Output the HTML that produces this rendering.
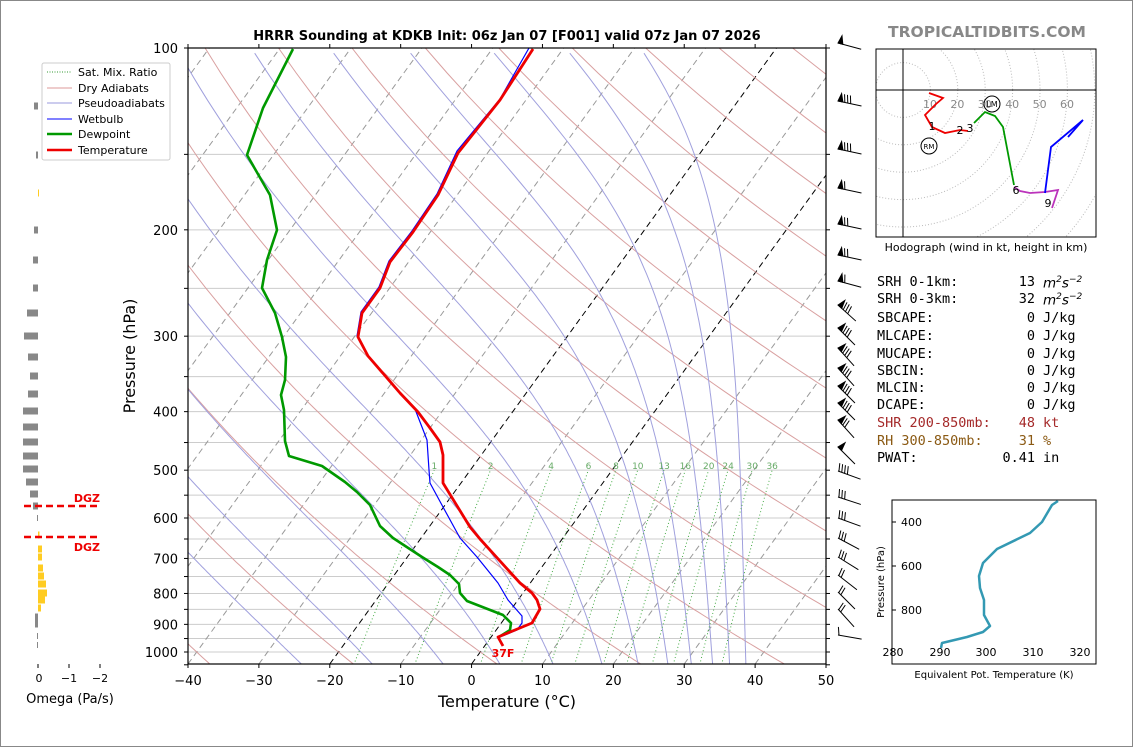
<!DOCTYPE html>
<html><head><meta charset="utf-8"><style>
body{margin:0;background:#fff;}
#w{position:relative;width:1134px;height:748px;overflow:hidden;font-family:"DejaVu Sans","Liberation Sans",sans-serif;}
.t{position:absolute;font-family:"DejaVu Sans Mono","Liberation Mono",monospace;font-size:13.5px;line-height:16px;white-space:pre;}
.v{position:absolute;font-family:"DejaVu Sans Mono","Liberation Mono",monospace;font-size:13.5px;line-height:16px;text-align:right;width:100px;left:935px;white-space:pre;}
.u{position:absolute;font-family:"DejaVu Sans Mono","Liberation Mono",monospace;font-size:13.5px;line-height:16px;left:1043px;white-space:pre;}
</style></head><body><div id="w">
<svg id="s" width="1134" height="748" xmlns="http://www.w3.org/2000/svg" style="position:absolute;left:0;top:0" font-family="DejaVu Sans, Liberation Sans, sans-serif">
<defs>
<clipPath id="cp"><rect x="188" y="48" width="638" height="616"/></clipPath>
<clipPath id="hc"><rect x="876" y="49" width="220" height="188"/></clipPath>
</defs>
<rect x="0.5" y="0.5" width="1132" height="746" fill="#fff" stroke="#888"/>
<g id="bg" clip-path="url(#cp)"></g>
<g id="prof" clip-path="url(#cp)" fill="none" stroke-linejoin="round"></g>
<rect x="188" y="48" width="638" height="616" fill="none" stroke="#000" stroke-width="1.2"/>
<g id="ax"></g>
<g id="barbs" stroke="#000" stroke-width="1" fill="none"></g>
<text x="507" y="40" text-anchor="middle" font-size="13" font-weight="bold">HRRR Sounding at KDKB Init: 06z Jan 07 [F001] valid 07z Jan 07 2026</text>
<text x="987" y="37" text-anchor="middle" font-size="15.5" font-weight="bold" fill="#888">TROPICALTIDBITS.COM</text>
<text x="507" y="707" text-anchor="middle" font-size="16">Temperature (°C)</text>
<text transform="translate(135,356) rotate(-90)" text-anchor="middle" font-size="16">Pressure (hPa)</text>
<text x="503" y="657" font-size="11" font-weight="bold" fill="#e00" text-anchor="middle">37F</text>
<g font-size="11">
<rect x="42" y="63" width="128" height="97" fill="#fff" stroke="#ccc" rx="2"/>
<line x1="47" y1="72" x2="72" y2="72" stroke="#393" stroke-dasharray="1,1.5"/><text x="78" y="76">Sat. Mix. Ratio</text>
<line x1="47" y1="88" x2="72" y2="88" stroke="#d99"/><text x="78" y="92">Dry Adiabats</text>
<line x1="47" y1="103" x2="72" y2="103" stroke="#99d"/><text x="78" y="107">Pseudoadiabats</text>
<line x1="47" y1="119" x2="72" y2="119" stroke="#00f"/><text x="78" y="123">Wetbulb</text>
<line x1="47" y1="134" x2="72" y2="134" stroke="#090" stroke-width="2.5"/><text x="78" y="138">Dewpoint</text>
<line x1="47" y1="150" x2="72" y2="150" stroke="#e00" stroke-width="2.5"/><text x="78" y="154">Temperature</text>
</g>
<g id="om"></g>
<line x1="24" y1="506" x2="98" y2="506" stroke="#e00" stroke-width="2.5" stroke-dasharray="7,4"/>
<line x1="24" y1="537" x2="98" y2="537" stroke="#e00" stroke-width="2.5" stroke-dasharray="7,4"/>
<text x="100" y="502" text-anchor="end" font-size="11" font-weight="bold" fill="#e00">DGZ</text>
<text x="100" y="551" text-anchor="end" font-size="11" font-weight="bold" fill="#e00">DGZ</text>
<g font-size="11" text-anchor="middle"><text x="39" y="682">0</text><text x="69" y="682">−1</text><text x="100" y="682">−2</text></g>
<line x1="38" y1="664" x2="38" y2="668" stroke="#000"/><line x1="69" y1="664" x2="69" y2="668" stroke="#000"/><line x1="100" y1="664" x2="100" y2="668" stroke="#000"/>
<text x="70" y="703" text-anchor="middle" font-size="13">Omega (Pa/s)</text>
<g id="hodo"></g>
<rect x="876" y="49" width="220" height="188" fill="none" stroke="#000"/>
<text x="986" y="251" text-anchor="middle" font-size="11">Hodograph (wind in kt, height in km)</text>
<rect x="892" y="500" width="204" height="164" fill="none" stroke="#000"/>
<polyline fill="none" stroke="#3399b3" stroke-width="2.5" stroke-linejoin="round" points="1058,501 1052,505 1042,522 1030,533 997,549 983,563 979,576 980,588 984,600 984,615 990,626 983,632 967,637 942,643 941,648"/>
<g font-size="11" text-anchor="end"><text x="922" y="526">400</text><text x="922" y="570">600</text><text x="922" y="614">800</text></g>
<line x1="892" y1="522" x2="896" y2="522" stroke="#000"/><line x1="892" y1="566" x2="896" y2="566" stroke="#000"/><line x1="892" y1="610" x2="896" y2="610" stroke="#000"/>
<g font-size="11" text-anchor="middle"><text x="893" y="656">280</text><text x="940" y="656">290</text><text x="986" y="656">300</text><text x="1033" y="656">310</text><text x="1080" y="656">320</text></g>
<text transform="translate(884,582) rotate(-90)" text-anchor="middle" font-size="10">Pressure (hPa)</text>
<text x="994" y="678" text-anchor="middle" font-size="10">Equivalent Pot. Temperature (K)</text>
</svg>
<div class="t" style="left:877px;top:274px">SRH 0-1km:</div><div class="v" style="top:274px">13</div><div class="u" style="top:272px;font-family:'DejaVu Sans';font-style:italic">m<sup style="font-size:9px">2</sup>s<sup style="font-size:9px">−2</sup></div>
<div class="t" style="left:877px;top:291px">SRH 0-3km:</div><div class="v" style="top:291px">32</div><div class="u" style="top:289px;font-family:'DejaVu Sans';font-style:italic">m<sup style="font-size:9px">2</sup>s<sup style="font-size:9px">−2</sup></div>
<div class="t" style="left:877px;top:310px">SBCAPE:</div><div class="v" style="top:310px">0</div><div class="u" style="top:310px">J/kg</div>
<div class="t" style="left:877px;top:328px">MLCAPE:</div><div class="v" style="top:328px">0</div><div class="u" style="top:328px">J/kg</div>
<div class="t" style="left:877px;top:346px">MUCAPE:</div><div class="v" style="top:346px">0</div><div class="u" style="top:346px">J/kg</div>
<div class="t" style="left:877px;top:363px">SBCIN:</div><div class="v" style="top:363px">0</div><div class="u" style="top:363px">J/kg</div>
<div class="t" style="left:877px;top:380px">MLCIN:</div><div class="v" style="top:380px">0</div><div class="u" style="top:380px">J/kg</div>
<div class="t" style="left:877px;top:397px">DCAPE:</div><div class="v" style="top:397px">0</div><div class="u" style="top:397px">J/kg</div>
<div class="t" style="left:877px;top:415px;color:#a52a2a">SHR 200-850mb:</div><div class="v" style="top:415px;color:#a52a2a">48</div><div class="u" style="top:415px;color:#a52a2a">kt</div>
<div class="t" style="left:877px;top:433px;color:#8b5a14">RH 300-850mb:</div><div class="v" style="top:433px;color:#8b5a14">31</div><div class="u" style="top:433px;color:#8b5a14">%</div>
<div class="t" style="left:877px;top:450px">PWAT:</div><div class="v" style="top:450px">0.41</div><div class="u" style="top:450px">in</div>
</div>
<script>
var NS="http://www.w3.org/2000/svg";
function el(p,n,a){var e=document.createElementNS(NS,n);for(var k in a)e.setAttribute(k,a[k]);p.appendChild(e);return e;}
function yP(p){return 48+Math.log10(p/100)*604;}
function xT(T,y){return 188+(T+40)*7.089+0.725*(664-y);}
var bg=document.getElementById('bg'),ax=document.getElementById('ax');
for(var p=100;p<=1050;p+=50){var y=yP(p);el(bg,'line',{x1:188,x2:826,y1:y,y2:y,stroke:'#ccc','stroke-width':1});}
for(var T=-130;T<=50;T+=10){var y1=664,y2=48;el(bg,'line',{x1:xT(T,y1),y1:y1,x2:xT(T,y2),y2:y2,stroke:(T==0||T==-20)?'#000':'#999','stroke-width':1,'stroke-dasharray':'6,4'});}
for(var th=-40;th<=220;th+=20){var pts=[];for(var p=1050;p>=100;p-=10){var T=(th+273.15)*Math.pow(p/1000,0.2857)-273.15;var y=yP(p);pts.push(xT(T,y).toFixed(1)+','+y.toFixed(1));}el(bg,'polyline',{points:pts.join(' '),fill:'none',stroke:'#d9a0a0','stroke-width':1});}
function es(Tc){return 6.112*Math.exp(17.67*Tc/(Tc+243.5));}
var starts=[-24,-14,-4,4,11.5,18.4,23.5,27.7,31,34,36.4,38.7];
starts.forEach(function(T0){var T=T0+273.15,p=1047,pts=[];while(p>=100){var y=yP(p);pts.push(xT(T-273.15,y).toFixed(1)+','+y.toFixed(1));var e=es(T-273.15),rs=0.622*e/(p-e);var dTdp=(287*T+2.5e6*rs)/(1005+2.5e6*2.5e6*rs*0.622/(287*T*T))/p;T-=dTdp*5;p-=5;}el(bg,'polyline',{points:pts.join(' '),fill:'none',stroke:'#a0a0dd','stroke-width':1});});
[1,2,4,6,8,10,13,16,20,24,30,36].forEach(function(w){var pts=[];for(var p=1050;p>=500;p-=10){var e=p*w/(622+w),l=Math.log(e/6.112),Td=243.5*l/(17.67-l),y=yP(p);pts.push(xT(Td,y).toFixed(1)+','+y.toFixed(1));}el(bg,'polyline',{points:pts.join(' '),fill:'none',stroke:'#4a4','stroke-width':1,'stroke-dasharray':'1,2.5'});var e=500*w/(622+w),l=Math.log(e/6.112),Td=243.5*l/(17.67-l);var t=el(bg,'text',{x:xT(Td,470),y:469,'font-size':9,fill:'#6a6','text-anchor':'middle'});t.textContent=w;});
var pr=document.getElementById('prof');
el(pr,'polyline',{stroke:'#00f','stroke-width':1.2,points:"529,48 500,99 457,151 437,194 412,231 389,261 379,287 361,312 357,336 367,355 397,389 415,409 427,440 429,470 430,483 443,507 460,538 477,557 498,583 508,600 522,616 522,623 517,630 500,637"});
el(pr,'polyline',{stroke:'#090','stroke-width':2.6,points:"293,49 263,108 247,155 270,195 277,230 267,260 262,288 275,313 282,337 286,357 285,380 281,395 284,410 285,441 289,456 322,466 345,482 357,492 370,505 380,526 393,538 422,557 438,567 450,575 459,584 460,593 467,601 503,615 511,623 510,630 499,637"});
el(pr,'polyline',{stroke:'#e00','stroke-width':2.8,points:"533,49 500,100 458,153 438,195 413,232 390,262 380,288 362,313 358,337 368,356 400,393 418,412 430,428 440,442 443,455 443,483 470,527 480,539 520,583 532,593 537,600 540,609 532,623 498,637 503,646"});
var lab=[100,200,300,400,500,600,700,800,900,1000];
for(var p=100;p<=1050;p+=50){var y=yP(p);el(ax,'line',{x1:184,x2:188,y1:y,y2:y,stroke:'#000'});el(ax,'line',{x1:826,x2:830,y1:y,y2:y,stroke:'#000'});if(lab.indexOf(p)>=0){var t=el(ax,'text',{x:178,y:y+5,'font-size':13,'text-anchor':'end'});t.textContent=p;}}
for(var T=-40;T<=50;T+=10){var x=188+(T+40)*7.089;el(ax,'line',{x1:x,x2:x,y1:664,y2:668,stroke:'#000'});el(ax,'line',{x1:x,x2:x,y1:44,y2:48,stroke:'#000'});var t=el(ax,'text',{x:x,y:685,'font-size':13,'text-anchor':'middle'});t.textContent=(T<0?'−':'')+Math.abs(T);}
var om=document.getElementById('om');
[[106,34],[155,36],[230,34],[260,33],[288,33],[313,27],[336,24],[357,28],[376,30],[394,28],[411,23],[427,23],[442,23],[456,23],[469,23],[482,26],[494,30],[506,33],[617,35],[624,35]].forEach(function(b){el(om,'rect',{x:b[1],y:b[0]-3.5,width:38-b[1],height:7,fill:'#888'});});
[[518,37],[636,37],[645,37]].forEach(function(b){el(om,'rect',{x:b[1],y:b[0]-3,width:1,height:6,fill:'#888'});});
[[193,39],[535,39.5],[549,42],[557,42],[568,43],[576,44],[584,46],[593,47],[600,45],[608,41]].forEach(function(b){el(om,'rect',{x:38,y:b[0]-3.5,width:b[1]-38,height:7,fill:'#fc2'});});
var bb=document.getElementById('barbs');
function barb(y,ang,flag,n){var r=ang*Math.PI/180,c=Math.cos(r),s=Math.sin(r);var x0=838,y0=y;var x1=x0+24*c,y1=y0+24*s;el(bb,'line',{x1:x0,y1:y0,x2:x1,y2:y1});var px=s,py=-c;
 if(flag){el(bb,'polygon',{points:x0+','+y0+' '+(x0+5*c)+','+(y0+5*s)+' '+(x0+2*c+8*px)+','+(y0+2*s+8*py),fill:'#000'});}
 for(var i=0;i<n;i++){var d=(flag?6:0)+i*3+1;var bx=x0+d*c,by=y0+d*s;el(bb,'line',{x1:bx,y1:by,x2:bx+px*8-c*2,y2:by+py*8-s*2});}}
[[43,15,1,0],[101,12,1,3],[149,12,1,3],[188,12,1,1],[224,12,1,2],[255,12,1,2],[281,15,1,1],[305,42,1,3],[328,45,1,3],[348,48,1,3],[368,48,1,3],[386,45,1,3],[403,45,1,3],[420,48,1,2],[447,45,1,0],[471,20,0,4],[497,18,0,3],[518,20,0,3],[538,28,0,3],[557,32,0,3],[575,38,0,2],[592,45,0,2],[609,48,0,2],[635,10,0,1]].forEach(function(a){barb(a[0],a[1],a[2],a[3]);});
var h=document.getElementById('hodo');var hg=el(h,'g',{'clip-path':'url(#hc)'});
for(var k=1;k<=9;k++)el(hg,'circle',{cx:903,cy:90,r:27.4*k,fill:'none',stroke:'#bbb','stroke-dasharray':'1,2'});
el(hg,'line',{x1:876,x2:1096,y1:90,y2:90,stroke:'#000'});el(hg,'line',{x1:903,x2:903,y1:49,y2:237,stroke:'#000'});
[10,20,30,40,50,60].forEach(function(v,i){var t=el(hg,'text',{x:930+i*27.4,y:108,'font-size':11,fill:'#888','text-anchor':'middle'});t.textContent=v;});
function pl(pts,c){el(hg,'polyline',{points:pts,fill:'none',stroke:c,'stroke-width':1.8});}
pl("929,93 943,98 936,104 925,115 932,127 945,133 960,130 968,131","#e00");
pl("974,123 985,112 995,116 1003,127 1014,185","#090");
pl("1014,187 1020,191 1030,193 1045,192 1058,190 1052,208","#b3b");
pl("1045,193 1051,147 1083,120 1068,137","#00f");
[['1',932,130],['2',960,134],['3',970,132],['6',1016,194],['9',1048,207]].forEach(function(a){var t=el(hg,'text',{x:a[1],y:a[2],'font-size':11,'text-anchor':'middle'});t.textContent=a[0];});
el(hg,'circle',{cx:929,cy:146,r:8,fill:'#fff',stroke:'#000'});el(hg,'circle',{cx:992,cy:104,r:8,fill:'none',stroke:'#000'});
var t=el(hg,'text',{x:929,y:149,'font-size':7,'text-anchor':'middle'});t.textContent='RM';
t=el(hg,'text',{x:992,y:107,'font-size':8,'text-anchor':'middle'});t.textContent='LM';
</script>
</body></html>
